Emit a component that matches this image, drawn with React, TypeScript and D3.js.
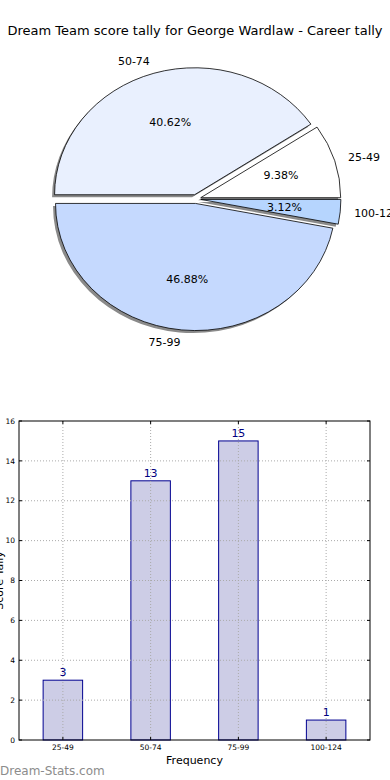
import React from 'react';
import * as d3 from 'd3';

// data
const categories = ['25-49', '50-74', '75-99', '100-124'];
const counts = [3, 13, 15, 1];
const pctLabels = ['9.38%', '40.62%', '46.88%', '3.12%'];
const pieColors = ['#ffffff', '#e9f0fe', '#c5d9fe', '#b6d5fe'];
const yTicks = [0, 2, 4, 6, 8, 10, 12, 14, 16];

const W = 390;
const H = 780;
const FONT = '"DejaVu Sans", Verdana, sans-serif';

const PieChart: React.FC = () => {
    const cx = 196;
    const cy = 199;
    const rx = 140;
    const ry = 127;
    const explode = 0.035;

    // matplotlib style: start at 3 o'clock, go counterclockwise
    const arcs = d3.pie<number>().sort(null)
        .startAngle(Math.PI / 2)
        .endAngle(Math.PI / 2 - 2 * Math.PI)(counts);
    const arcGen = d3.arc<d3.PieArcDatum<number>>().innerRadius(0).outerRadius(1);

    const slices = arcs.map((a, i) => {
        const mid = (a.startAngle + a.endAngle) / 2;
        const ux = Math.sin(mid);
        const uy = -Math.cos(mid);
        const ox = cx + explode * ux * rx;
        const oy = cy + explode * uy * ry;
        return { a, i, ux, uy, ox, oy };
    });

    return (
        <g>
            {/* shadows */}
            {slices.map(s => (
                <path key={'sh' + s.i} d={arcGen(s.a) || ''}
                    transform={`translate(${s.ox - 2.5},${s.oy + 2.5}) scale(${rx},${ry})`}
                    fill="#8a8a8a" />
            ))}
            {slices.map(s => (
                <path key={'w' + s.i} d={arcGen(s.a) || ''}
                    transform={`translate(${s.ox},${s.oy}) scale(${rx},${ry})`}
                    fill={pieColors[s.i]} stroke="#000" strokeWidth={0.8}
                    vectorEffect="non-scaling-stroke" />
            ))}
            {slices.map(s => (
                <text key={'l' + s.i}
                    x={s.ox + 1.1 * s.ux * rx} y={s.oy + 1.1 * s.uy * ry} dy="0.35em"
                    textAnchor={s.ux < 0 ? 'end' : 'start'}
                    fontSize={11} fill="#000">{categories[s.i]}</text>
            ))}
            {slices.map(s => (
                <text key={'p' + s.i}
                    x={s.ox + 0.6 * s.ux * rx} y={s.oy + 0.6 * s.uy * ry} dy="0.35em"
                    textAnchor="middle" fontSize={11} fill="#000">{pctLabels[s.i]}</text>
            ))}
        </g>
    );
};

const BarChart: React.FC = () => {
    const left = 19, right = 370, top = 421, bottom = 740;
    const x = d3.scaleLinear().domain([-0.5, categories.length - 0.5]).range([left, right]);
    const y = d3.scaleLinear().domain([0, 16]).range([bottom, top]);
    const bw = x(0.45) - x(0);

    return (
        <g>
            {counts.map((v, i) => (
                <rect key={'b' + i} x={x(i) - bw / 2} y={y(v)} width={bw} height={y(0) - y(v)}
                    fill="#cdcde6" stroke="#000090" strokeWidth={1} />
            ))}
            {/* grid on top like matplotlib */}
            {yTicks.slice(1, -1).map(t => (
                <line key={'gy' + t} x1={left} x2={right} y1={y(t)} y2={y(t)}
                    stroke="#aaaaaa" strokeWidth={1} strokeDasharray="1,2" />
            ))}
            {categories.map((c, i) => (
                <line key={'gx' + c} x1={x(i)} x2={x(i)} y1={top} y2={bottom}
                    stroke="#aaaaaa" strokeWidth={1} strokeDasharray="1,2" />
            ))}
            {counts.map((v, i) => (
                <text key={'v' + i} x={x(i)} y={y(v) - 4} textAnchor="middle"
                    fontSize={11} fill="#000080">{v}</text>
            ))}
            <rect x={left} y={top} width={right - left} height={bottom - top}
                fill="none" stroke="#000" strokeWidth={1} />
            {yTicks.map(t => (
                <g key={'yt' + t}>
                    <line x1={left} x2={left + 3} y1={y(t)} y2={y(t)} stroke="#000" />
                    <line x1={right - 3} x2={right} y1={y(t)} y2={y(t)} stroke="#000" />
                    <text x={left - 4} y={y(t)} dy="0.35em" textAnchor="end" fontSize={7.5}
                        fill="#000">{t}</text>
                </g>
            ))}
            {categories.map((c, i) => (
                <g key={'xt' + c}>
                    <line x1={x(i)} x2={x(i)} y1={bottom} y2={bottom - 3} stroke="#000" />
                    <line x1={x(i)} x2={x(i)} y1={top} y2={top + 3} stroke="#000" />
                    <text x={x(i)} y={bottom + 10} textAnchor="middle" fontSize={7.5}
                        fill="#000">{c}</text>
                </g>
            ))}
            <text x={(left + right) / 2} y={764} textAnchor="middle" fontSize={11}
                fill="#000">Frequency</text>
            <text transform={`translate(3,${(top + bottom) / 2}) rotate(-90)`} textAnchor="middle"
                fontSize={11} fill="#000">Score Tally</text>
        </g>
    );
};

export default function App() {
    return (
        <svg width={W} height={H} viewBox={`0 0 ${W} ${H}`}
            style={{ position: 'absolute', left: 0, top: 0, display: 'block', background: '#fff' }}
            fontFamily={FONT}>
            <rect width={W} height={H} fill="#fff" />
            <text x={195} y={35} textAnchor="middle" fontSize={13} fill="#000">
                Dream Team score tally for George Wardlaw - Career tally
            </text>
            <PieChart />
            <BarChart />
            <text x={0} y={775} fontSize={12} fill="#8c8c8c">Dream-Stats.com</text>
        </svg>
    );
}
